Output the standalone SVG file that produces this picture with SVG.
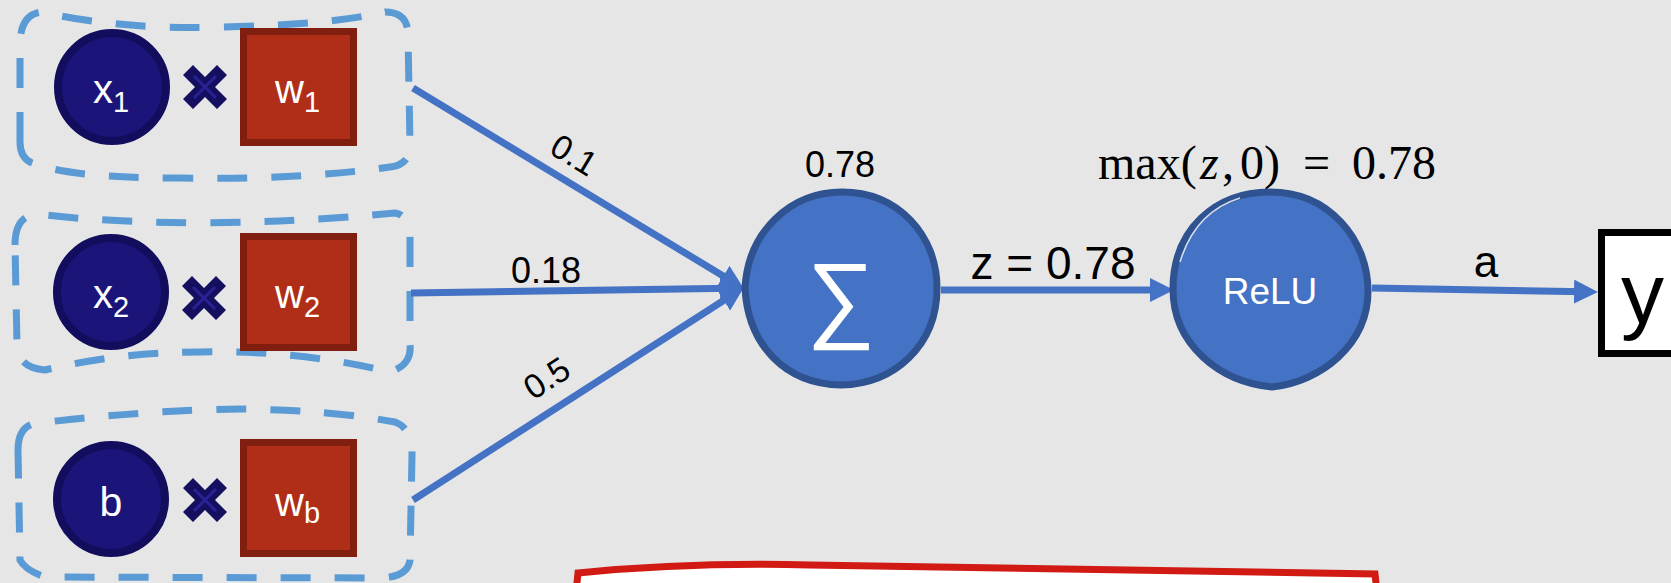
<svg xmlns="http://www.w3.org/2000/svg" width="1671" height="583" viewBox="0 0 1671 583">
  <style>
    .dash { fill: none; stroke: #5b9bd5; stroke-width: 7; stroke-dasharray: 30 24; }
    .inp { fill: #1b1479; stroke: #120d5c; stroke-width: 8; }
    .wt { fill: #b02e18; stroke: #801e0f; stroke-width: 7; }
    .xm { fill: #14105f; }
    .xl { stroke: #2a2196; stroke-width: 3; fill: none; }
    .neuron { fill: #4472c4; stroke: #2f5290; stroke-width: 7; }
    .wtxt { font-family: "Liberation Sans", Arial, sans-serif; fill: #ffffff; }
    .lbl { font-family: "Liberation Sans", Arial, sans-serif; fill: #000000; }
    .conn { stroke: #4472c4; stroke-width: 7; fill: none; }
  </style>
  <defs>
    <marker id="ah" markerUnits="userSpaceOnUse" viewBox="0 0 24 24" refX="11" refY="12" markerWidth="24" markerHeight="24" orient="auto">
      <path d="M0,0 L24,12 L0,24 Z" fill="#4472c4"/>
    </marker>
    <path id="xmark" d="M-12,-22 L0,-10 L12,-22 L22,-12 L10,0 L22,12 L12,22 L0,10 L-12,22 L-22,12 L-10,0 L-22,-12 Z"/>
  </defs>
  <rect x="0" y="0" width="1671" height="583" fill="#e6e6e6"/>

  <g id="group-x1">
    <path class="dash" d="M20,142 L20,45 Q20,14 42,12 Q120,30 220,27 Q330,25 385,12 Q408,12 408,35 L410,145 Q410,165 390,167 Q300,180 180,178 Q70,178 32,163 Q20,158 20,142 Z"/>
    <circle class="inp" cx="112" cy="87" r="54"/>
    <text class="wtxt" x="93" y="103" font-size="40">x<tspan font-size="29" dy="9">1</tspan></text>
    <g transform="translate(205,87)"><use href="#xmark" class="xm"/><path class="xl" d="M-11,-11 L11,11 M11,-11 L-11,11"/></g>
    <rect class="wt" x="243.5" y="31.5" width="110" height="111"/>
    <text class="wtxt" x="275" y="103" font-size="40">w<tspan font-size="29" dy="9">1</tspan></text>
  </g>

  <g id="group-x2">
    <path class="dash" d="M15,245 Q15,215 38,214 Q100,222 200,223 Q300,222 395,213 Q410,215 410,240 L410,345 Q412,365 390,372 Q300,350 200,352 Q120,352 45,370 Q18,368 17,345 Z"/>
    <circle class="inp" cx="111" cy="292" r="54"/>
    <text class="wtxt" x="93" y="308" font-size="40">x<tspan font-size="29" dy="9">2</tspan></text>
    <g transform="translate(204,298)"><use href="#xmark" class="xm"/><path class="xl" d="M-11,-11 L11,11 M11,-11 L-11,11"/></g>
    <rect class="wt" x="243.5" y="236.5" width="110" height="111"/>
    <text class="wtxt" x="275" y="308" font-size="40">w<tspan font-size="29" dy="9">2</tspan></text>
  </g>

  <g id="group-b">
    <path class="dash" d="M18,450 Q18,425 38,423 Q150,410 240,409 Q330,410 395,422 Q412,428 412,455 L410,560 Q408,577 380,578 L45,577 Q25,570 20,560 Z"/>
    <circle class="inp" cx="111" cy="499" r="54"/>
    <text class="wtxt" x="111" y="516" font-size="41" text-anchor="middle">b</text>
    <g transform="translate(205,500)"><use href="#xmark" class="xm"/><path class="xl" d="M-11,-11 L11,11 M11,-11 L-11,11"/></g>
    <rect class="wt" x="243.5" y="442.5" width="110" height="111"/>
    <text class="wtxt" x="275" y="516" font-size="40">w<tspan font-size="29" dy="7">b</tspan></text>
  </g>

  <g id="connectors">
    <line class="conn" x1="413" y1="88" x2="732.7" y2="281.8" marker-end="url(#ah)"/>
    <line class="conn" x1="411" y1="293" x2="731" y2="288.2" marker-end="url(#ah)"/>
    <line class="conn" x1="413" y1="500" x2="732.9" y2="294.5" marker-end="url(#ah)"/>
    <line class="conn" x1="941" y1="290" x2="1161" y2="290" marker-end="url(#ah)"/>
    <line class="conn" x1="1372" y1="288" x2="1585" y2="291.8" marker-end="url(#ah)"/>
    <text class="lbl" font-size="34" text-anchor="middle" transform="translate(568,165) rotate(31)">0.1</text>
    <text class="lbl" x="546" y="283" font-size="36" text-anchor="middle">0.18</text>
    <text class="lbl" font-size="34" text-anchor="middle" transform="translate(553,388) rotate(-33)">0.5</text>
    <text class="lbl" x="1053" y="279" font-size="46" text-anchor="middle">z = 0.78</text>
    <text class="lbl" x="1486" y="277" font-size="44" text-anchor="middle">a</text>
  </g>

  <g id="sum">
    <path class="neuron" d="M745,288 C748,232 790,192 842,192 C898,192 937,235 937,288 C937,345 895,384 841,385 C785,384 748,345 745,288 Z"/>
    <text class="wtxt" x="841" y="330" font-size="96" text-anchor="middle">∑</text>
    <text class="lbl" x="840" y="177" font-size="36" text-anchor="middle">0.78</text>
  </g>

  <g id="relu">
    <path class="neuron" d="M1173,289 C1173,230 1215,192 1270,192 C1330,192 1367,240 1368,289 C1369,345 1320,382 1272,387 C1220,382 1173,345 1173,289 Z"/>
    <path d="M1180,262 Q1195,212 1240,198" fill="none" stroke="#ffffff" stroke-width="1.5" opacity="0.8"/>
    <text class="wtxt" x="1270" y="304" font-size="37" text-anchor="middle">ReLU</text>
    <text font-family="'Liberation Serif', 'Times New Roman', serif" font-size="48" fill="#000000" y="179"><tspan x="1098">max(</tspan><tspan x="1200" font-style="italic">z</tspan><tspan x="1222">,</tspan><tspan x="1240">0)</tspan><tspan x="1303">=</tspan><tspan x="1352">0.78</tspan></text>
  </g>

  <g id="output-y">
    <rect x="1601.5" y="232.5" width="90" height="121" fill="#ffffff" stroke="#000000" stroke-width="7"/>
    <text class="lbl" x="1621" y="323" font-size="86">y</text>
  </g>

  <g id="red-box">
    <path d="M576,592 L578,573 Q690,562 810,565 L1375,574 L1377,592 Z" fill="#ffffff" stroke="#d21a14" stroke-width="7"/>
  </g>
</svg>
